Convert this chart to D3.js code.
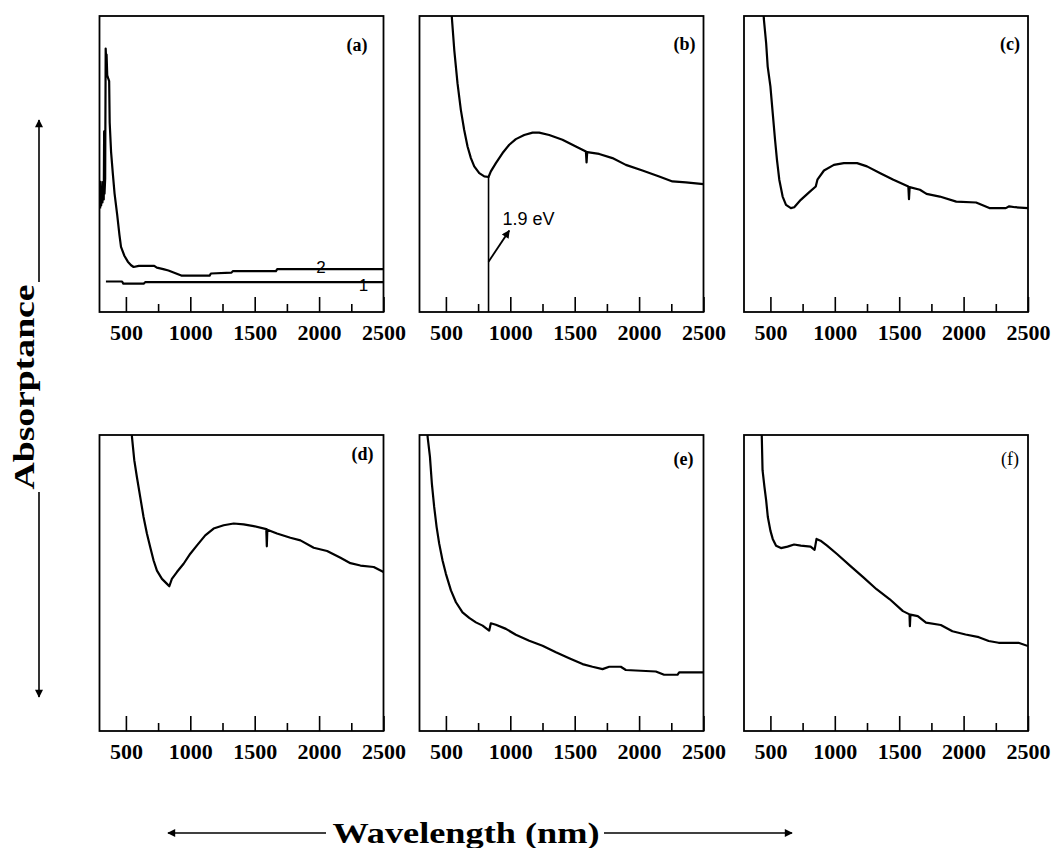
<!DOCTYPE html>
<html>
<head>
<meta charset="utf-8">
<script src="https://cdn.jsdelivr.net/npm/d3@7"></script>
<style>
  body { margin: 0; background: #fff; }
  svg { display: block; }
  .tick text { font-family: "Liberation Serif", "Times New Roman", serif; font-weight: bold; font-size: 22px; fill: #000; }
</style>
</head>
<body>
<svg id="chart" width="1051" height="848"></svg>
<script>
// absorptance spectra, [wavelength nm, absorptance in % of panel height]
const curveA2 = [[300,35],[304,44],[308,36],[313,42],[318,37],[323,44],[328,38],[331,61],[334,40],[339,45],[343,89],[347,85],[350,87],[355,80],[362,79],[370,78],[374,64],[385,54],[398,47],[412,40],[432,33],[450,26],[462,22],[488,19],[515,17],[540,15.8],[560,15.2],[600,15.6],[720,15.6],[740,15.0],[790,14.5],[830,14.0],[880,13.2],[930,12.3],[1150,12.3],[1160,13.0],[1320,13.3],[1330,13.8],[1665,13.8],[1675,14.5],[2500,14.5]];
const curveA1 = [[345,10.3],[470,10.3],[480,9.6],[640,9.6],[650,10.1],[2500,10.1]];
const curveB = [[540,104],[547,99],[565,88.5],[590,77.3],[616,68.3],[642,61.5],[668,55.9],[694,52],[720,49.2],[759,46.9],[798,45.8],[831,45.6],[849,47.5],[888,50.3],[940,53.7],[992,56.5],[1043,58.4],[1108,59.8],[1173,60.6],[1224,60.6],[1302,59.8],[1405,58.2],[1509,55.9],[1587,54.2],[1592,50.5],[1597,54.0],[1690,53.4],[1793,52.0],[1897,49.7],[2026,47.8],[2156,45.8],[2259,44.1],[2363,43.8],[2500,43.2]];
const curveC = [[445,104],[449,99],[467,90.8],[479,82.9],[500,76.2],[518,67.2],[536,58.2],[551,51.4],[569,44.7],[595,39.0],[621,36.2],[659,35.1],[685,35.4],[736,37.9],[800,40.4],[852,42.4],[865,44.7],[916,47.8],[993,49.7],[1070,50.3],[1173,50.3],[1250,49.2],[1353,46.9],[1455,44.7],[1571,42.4],[1576,38.1],[1581,42.2],[1661,41.3],[1712,39.9],[1815,39.0],[1943,37.3],[2097,37.0],[2200,35.1],[2328,35.1],[2354,35.7],[2400,35.4],[2500,35.1]];
const curveD = [[540,104],[547,99.4],[565,91.5],[585,85.9],[611,79.1],[637,72.3],[663,66.7],[689,62.1],[715,57.6],[741,54.2],[780,51.4],[819,49.7],[837,48.9],[857,51.4],[896,53.7],[948,56.5],[1000,59.9],[1052,62.7],[1116,66.1],[1181,68.4],[1259,69.5],[1337,70.1],[1414,69.8],[1492,69.2],[1590,68.2],[1594,62.4],[1598,68.0],[1673,66.7],[1777,65.3],[1855,64.4],[1958,61.9],[2062,60.8],[2166,58.5],[2243,56.7],[2321,55.9],[2424,55.4],[2500,53.7]];
const curveE = [[355,104],[358,99.4],[376,92.7],[391,83.6],[409,75.7],[428,68.9],[448,63.3],[474,57.6],[500,53.1],[539,47.5],[578,43.5],[629,40.1],[681,38.2],[733,36.7],[785,35.6],[836,33.9],[849,36.4],[888,35.9],[966,34.5],[1043,32.5],[1147,30.5],[1250,28.8],[1354,26.6],[1457,24.6],[1561,22.6],[1638,21.7],[1716,20.9],[1768,21.7],[1858,21.7],[1897,20.6],[2130,20.1],[2194,19.0],[2298,19.0],[2311,19.8],[2500,19.8]];
const curveF = [[432,104],[433,99.7],[439,88.1],[454,82.4],[467,77.9],[480,72.3],[500,67.7],[518,64.9],[544,62.6],[582,61.8],[633,62.3],[684,63.0],[736,62.6],[812,62.3],[843,61.2],[858,64.9],[889,64.3],[940,62.6],[1017,59.8],[1120,55.8],[1222,51.9],[1324,47.9],[1427,44.5],[1529,40.5],[1580,39.4],[1583,35.4],[1587,39.3],[1644,38.8],[1708,36.6],[1823,35.8],[1913,33.7],[2015,32.6],[2118,31.7],[2195,30.4],[2272,29.8],[2426,29.8],[2500,28.7]];

const panelNames = ["(a)", "(b)", "(c)", "(d)", "(e)", "(f)"];
const majorTicks = [500, 1000, 1500, 2000, 2500];
const minorTicks = [750, 1250, 1750, 2250];
const xDomain = [295, 2500];
const yDomain = [0, 100];

// band gap marker in (b)
const gapWavelength = 831;
const gapLabel = "1.9 eV";

const svg = d3.select("#chart");
const W = 284, H = 296;
const colX = [99.5, 419.5, 744];
const rowY = [16, 435];

const panels = [
  { name: panelNames[0], curves: [curveA2, curveA1], col: 0, row: 0, inset: 16, lblDy: 35, bold: true },
  { name: panelNames[1], curves: [curveB], col: 1, row: 0, inset: 8, lblDy: 34, bold: true },
  { name: panelNames[2], curves: [curveC], col: 2, row: 0, inset: 8, lblDy: 34, bold: true },
  { name: panelNames[3], curves: [curveD], col: 0, row: 1, inset: 10, lblDy: 25, bold: true },
  { name: panelNames[4], curves: [curveE], col: 1, row: 1, inset: 10, lblDy: 30, bold: true },
  { name: panelNames[5], curves: [curveF], col: 2, row: 1, inset: 9, lblDy: 30, bold: false }
];

let defs = svg.append("defs");
defs.append("marker")
  .attr("id", "head")
  .attr("viewBox", "0 0 10 10")
  .attr("refX", 9).attr("refY", 5)
  .attr("markerWidth", 10).attr("markerHeight", 8)
  .attr("markerUnits", "userSpaceOnUse")
  .attr("orient", "auto-start-reverse")
  .append("path").attr("d", "M0,0 L10,5 L0,10 Z").attr("fill", "#000");

let xScale = d3.scaleLinear().domain(xDomain).range([0, W]);
let yScale = d3.scaleLinear().domain(yDomain).range([H, 0]);

let line = d3.line()
  .x(d => xScale(d[0]))
  .y(d => yScale(d[1]));

panels.forEach((p, i) => {
  let g = svg.append("g")
    .attr("transform", "translate(" + colX[p.col] + "," + rowY[p.row] + ")");

  defs.append("clipPath").attr("id", "clip" + i)
    .append("rect").attr("width", W).attr("height", H);

  // ticks pointing up into the frame
  let majorAxis = d3.axisBottom(xScale).tickValues(majorTicks)
    .tickSize(-15).tickPadding(12).tickFormat(d3.format("d"));
  let minorAxis = d3.axisBottom(xScale).tickValues(minorTicks)
    .tickSize(-8).tickFormat("");

  let ax = g.append("g").attr("transform", "translate(0," + H + ")").call(majorAxis);
  ax.select(".domain").remove();
  ax.selectAll("line").attr("stroke-width", 1.6);
  let ax2 = g.append("g").attr("transform", "translate(0," + H + ")").call(minorAxis);
  ax2.select(".domain").remove();
  ax2.selectAll("line").attr("stroke-width", 1.6);

  g.append("g").attr("clip-path", "url(#clip" + i + ")")
    .selectAll("path")
    .data(p.curves)
    .enter().append("path")
    .attr("d", line)
    .attr("fill", "none")
    .attr("stroke", "#000")
    .attr("stroke-width", 2.2)
    .attr("stroke-linejoin", "round");

  g.append("rect")
    .attr("width", W).attr("height", H)
    .attr("fill", "none").attr("stroke", "#000").attr("stroke-width", 1.8);

  g.append("text")
    .attr("x", W - p.inset).attr("y", p.lblDy)
    .attr("text-anchor", "end")
    .style("font-family", "'Liberation Serif', 'Times New Roman', serif")
    .style("font-weight", p.bold ? "bold" : "normal")
    .style("font-size", "18px")
    .text(p.name);

  if (i === 0) {
    g.append("text").attr("x", xScale(2015)).attr("y", yScale(14.9))
      .attr("text-anchor", "middle").attr("dominant-baseline", "central")
      .style("font-family", "'Liberation Sans', Arial, sans-serif").style("font-size", "17px")
      .text("2");
    g.append("text").attr("x", xScale(2345)).attr("y", yScale(9.0))
      .attr("text-anchor", "middle").attr("dominant-baseline", "central")
      .style("font-family", "'Liberation Sans', Arial, sans-serif").style("font-size", "17px")
      .text("1");
  }

  if (i === 1) {
    let gapY = curveB.find(d => d[0] === gapWavelength)[1];
    g.append("line")
      .attr("x1", xScale(gapWavelength)).attr("x2", xScale(gapWavelength))
      .attr("y1", yScale(gapY)).attr("y2", H)
      .attr("stroke", "#000").attr("stroke-width", 1.6);
    g.append("line")
      .attr("x1", xScale(gapWavelength)).attr("y1", yScale(17))
      .attr("x2", xScale(992)).attr("y2", yScale(27.5))
      .attr("stroke", "#000").attr("stroke-width", 1.8)
      .attr("marker-end", "url(#head)");
    g.append("text")
      .attr("x", xScale(940)).attr("y", yScale(29.3))
      .style("font-family", "'Liberation Sans', Arial, sans-serif")
      .style("font-size", "18px")
      .text(gapLabel);
  }
});

// shared axis titles with arrows
let titleFont = "'Liberation Serif', 'Times New Roman', serif";

svg.append("text")
  .attr("transform", "translate(34,387) rotate(-90)")
  .attr("text-anchor", "middle")
  .style("font-family", titleFont).style("font-weight", "bold").style("font-size", "29px")
  .attr("textLength", 205).attr("lengthAdjust", "spacingAndGlyphs")
  .text("Absorptance");

svg.append("line").attr("x1", 39).attr("x2", 39).attr("y1", 282).attr("y2", 120)
  .attr("stroke", "#000").attr("stroke-width", 1.6).attr("marker-end", "url(#head)");
svg.append("line").attr("x1", 39).attr("x2", 39).attr("y1", 492).attr("y2", 697)
  .attr("stroke", "#000").attr("stroke-width", 1.6).attr("marker-end", "url(#head)");

svg.append("text")
  .attr("x", 466).attr("y", 843)
  .attr("text-anchor", "middle")
  .style("font-family", titleFont).style("font-weight", "bold").style("font-size", "29px")
  .attr("textLength", 267).attr("lengthAdjust", "spacingAndGlyphs")
  .text("Wavelength (nm)");

svg.append("line").attr("x1", 326).attr("x2", 168).attr("y1", 833).attr("y2", 833)
  .attr("stroke", "#000").attr("stroke-width", 1.6).attr("marker-end", "url(#head)");
svg.append("line").attr("x1", 604).attr("x2", 792).attr("y1", 833).attr("y2", 833)
  .attr("stroke", "#000").attr("stroke-width", 1.6).attr("marker-end", "url(#head)");
</script>
</body>
</html>
